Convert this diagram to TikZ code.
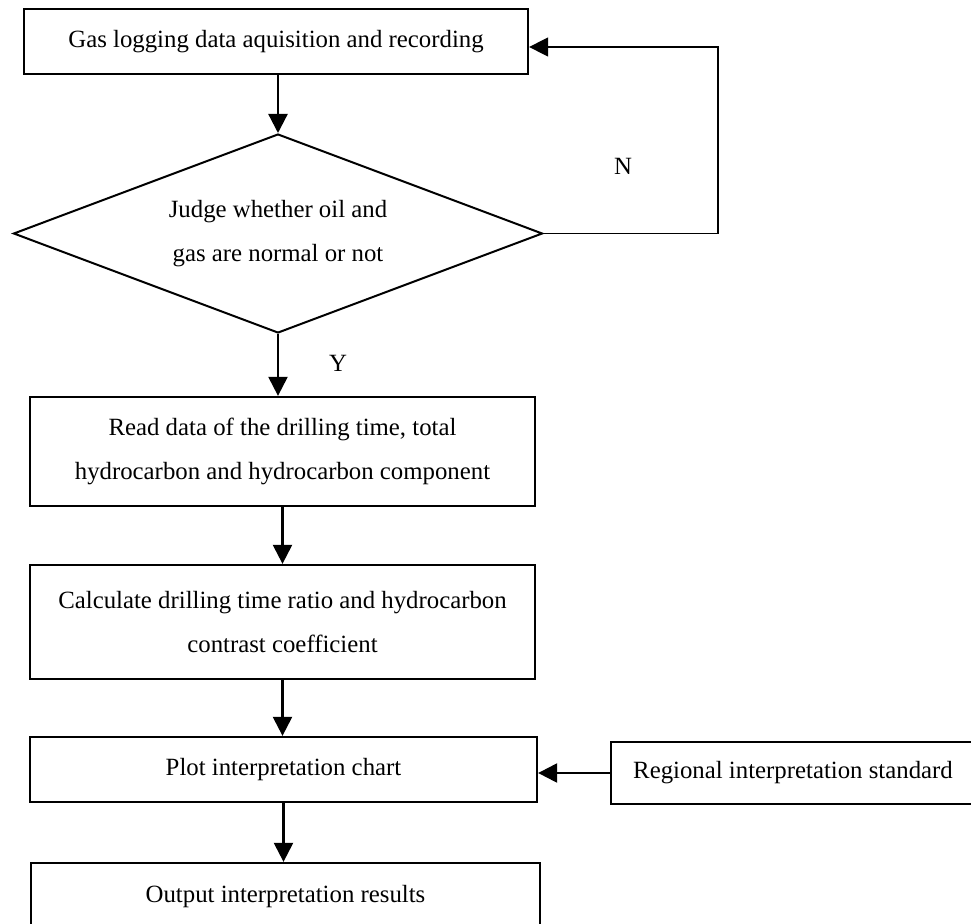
\documentclass[tikz,border=0pt]{standalone}
\usepackage{fontspec}
\setmainfont{Liberation Serif}
\usetikzlibrary{arrows.meta,shapes.geometric}
\begin{document}
\begin{tikzpicture}[x=1pt,y=-1pt,
  txt/.style={font=\fontsize{24.8}{43.5}\selectfont, align=center, inner sep=0pt},
  box/.style={txt, draw, line width=2.3pt, rectangle},
  dec/.style={txt, draw, line width=2pt, diamond},
  arr/.style={line width=2.3pt, -{Triangle[length=19pt,width=19pt]}},
  loopline/.style={line width=1.6pt, -{Triangle[length=19pt,width=19pt]}}]
\useasboundingbox (0,0) rectangle (971,923);
\node[box, minimum width=504pt, minimum height=65pt] (b1) at (276,41.5) {Gas logging data aquisition and recording};
\node[dec, minimum width=529pt, minimum height=199pt, aspect=2.66] (dia) at (278,233.5) {Judge whether oil and\\gas are normal or not};
\node[box, minimum width=505pt, minimum height=109pt] (b2) at (282.5,451.5) {Read data of the drilling time, total\\hydrocarbon and hydrocarbon component};
\node[box, minimum width=505pt, minimum height=114pt] (b3) at (282.5,622) {Calculate drilling time ratio and hydrocarbon\\contrast coefficient};
\node[box, minimum width=507pt, minimum height=65pt] (b4) at (283.5,769.5) {Plot interpretation chart};
\node[box, minimum width=364pt, minimum height=62pt] (b5) at (793,773) {Regional interpretation standard};
\node[box, minimum width=509pt, minimum height=67pt] (b6) at (285.5,896.5) {Output interpretation results};
\node[txt] (nlab) at (623,166) {N};
\node[txt] (ylab) at (338,363) {Y};
\coordinate (nr) at (718,47);
\draw[arr] (dia.north |- b1.south) -- (dia.north);
\draw[loopline] (dia.east) -- (dia.east -| nr) -- (nr) -- (nr -| b1.east);
\draw[arr] (dia.south) -- (dia.south |- b2.north);
\draw[arr] (b2.south) -- (b2.south |- b3.north);
\draw[arr] (b3.south) -- (b3.south |- b4.north);
\draw[arr] (b5.west) -- (b5.west -| b4.east);
\draw[arr] (b4.south) -- (b4.south |- b6.north);
\end{tikzpicture}
\end{document}
